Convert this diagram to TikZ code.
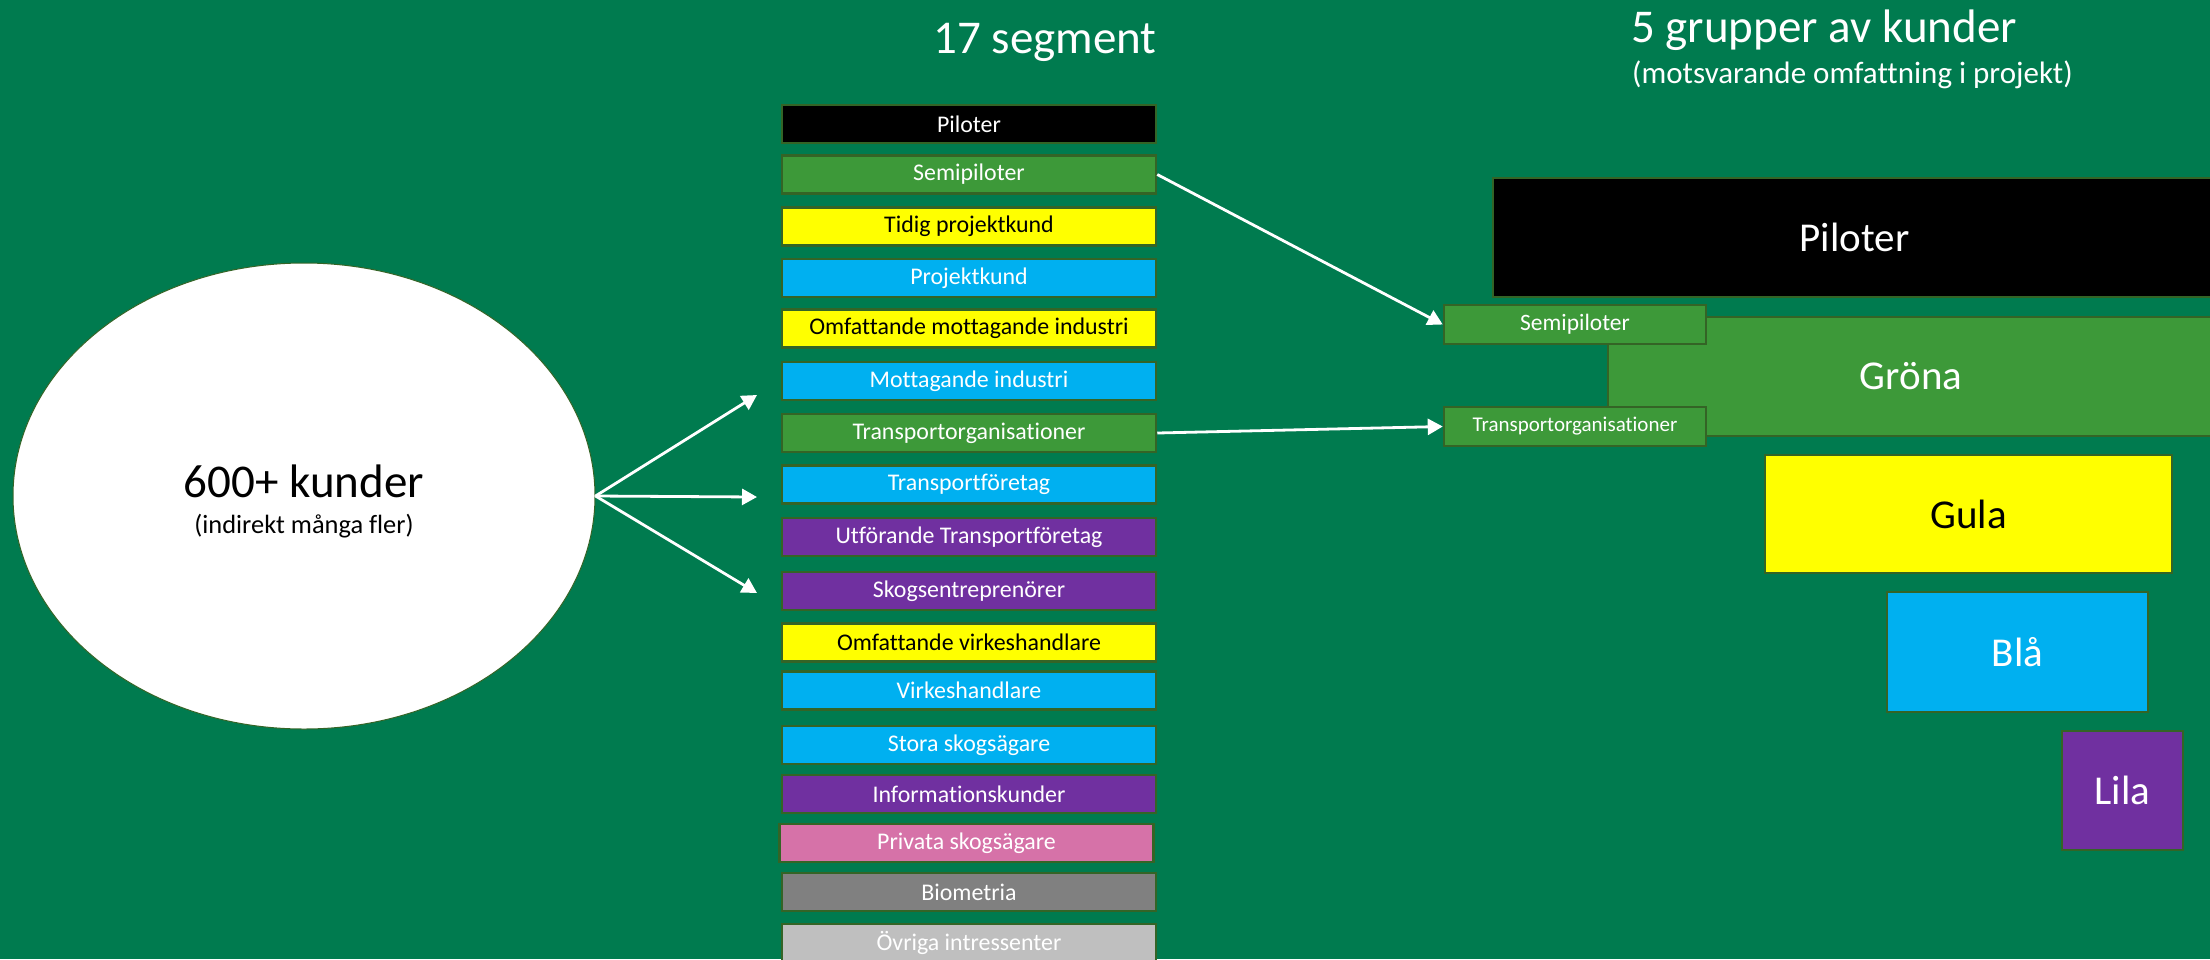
\documentclass[tikz,border=0pt]{standalone}
\usepackage{fontspec}
\setmainfont{Carlito}[Ligatures=NoCommon]
\usetikzlibrary{arrows.meta,shapes.geometric}
\definecolor{bg}{RGB}{0,123,79}
\definecolor{grn}{RGB}{61,153,57}
\definecolor{edgec}{RGB}{52,100,38}
\definecolor{blu}{RGB}{0,176,240}
\definecolor{ylw}{RGB}{255,255,0}
\definecolor{prp}{RGB}{112,48,160}
\definecolor{pnk}{RGB}{214,114,168}
\definecolor{gry}{RGB}{128,128,128}
\definecolor{lgry}{RGB}{191,191,191}
\begin{document}
\begin{tikzpicture}[x=1pt,y=-1pt,
  seg/.style={draw=edgec, line width=2.5pt, minimum width=374pt, minimum height=38pt,
    inner sep=0pt, text=white, font=\fontsize{23.9}{28}\selectfont},
  grp/.style={draw=edgec, line width=2.5pt, inner sep=0pt, text=white,
    font=\fontsize{41}{48}\selectfont},
  small/.style={draw=edgec, line width=2.5pt, inner sep=0pt, text=white, fill=grn,
    minimum width=262pt, minimum height=39pt},
  arr/.style={draw=white, line width=2.8pt, -{Triangle[length=15pt,width=16pt]}},
  title/.style={text=white, inner sep=0pt, font=\fontsize{47}{56}\selectfont}]
\useasboundingbox (0,0) rectangle (2210,959);
\clip (0,0) rectangle (2210,959);
\fill[bg] (0,0) rectangle (2210,959);

% titles
\node[title, anchor=base] (t1) at (1045,53) {17 segment};
\node[title, anchor=base west] (t2) at (1631,42) {5 grupper av kunder};
\node[text=white, inner sep=0pt, anchor=base west, font=\fontsize{31}{36}\selectfont] (t3) at (1632,83) {(motsvarande omfattning i projekt)};

% ellipse
\node[ellipse, fill=white, draw=edgec, line width=1pt, minimum width=582pt, minimum height=466pt, inner sep=0pt] (ell) at (304,496) {};
\node[anchor=base, inner sep=0pt, font=\fontsize{47}{56}\selectfont] (e1) at (304,497) {600+ kunder};
\node[anchor=base, inner sep=0pt, font=\fontsize{26.4}{32}\selectfont] (e2) at (304,533) {(indirekt många fler)};

% segment column
\node[seg, fill=black] (s1) at (969,124) {Piloter};
\node[seg, fill=grn] (s2) at (969,174.5) {Semipiloter};
\node[seg, fill=ylw, text=black] (s3) at (969,226.5) {Tidig projektkund};
\node[seg, fill=blu] (s4) at (969,278) {Projektkund};
\node[seg, fill=ylw, text=black] (s5) at (969,328.5) {Omfattande mottagande industri};
\node[seg, fill=blu] (s6) at (969,381) {Mottagande industri};
\node[seg, fill=grn] (s7) at (969,433) {Transportorganisationer};
\node[seg, fill=blu] (s8) at (969,484.5) {Transportföretag};
\node[seg, fill=prp] (s9) at (969,537) {Utförande Transportföretag};
\node[seg, fill=prp] (s10) at (969,591) {Skogsentreprenörer};
\node[seg, fill=ylw, text=black] (s11) at (969,642.5) {Omfattande virkeshandlare};
\node[seg, fill=blu] (s12) at (969,690.5) {Virkeshandlare};
\node[seg, fill=blu] (s13) at (969,745) {Stora skogsägare};
\node[seg, fill=prp] (s14) at (969,794) {Informationskunder};
\node[seg, fill=pnk] (s15) at (966.5,843) {Privata skogsägare};
\node[seg, fill=gry] (s16) at (969,892) {Biometria};
\node[seg, fill=lgry] (s17) at (969,943) {Övriga intressenter};

% groups
\node[grp, fill=black, minimum width=723pt, minimum height=119pt] (g1) at (1854.5,237.5) {Piloter};
\node[grp, fill=grn, minimum width=606pt, minimum height=119pt] (g2) at (1911,376.5) {Gröna};
\node[grp, fill=ylw, text=black, minimum width=407pt, minimum height=118pt] (g3) at (1968.5,514) {Gula};
\node[grp, fill=blu, minimum width=261pt, minimum height=120pt] (g4) at (2017.5,652) {Blå};
\node[grp, fill=prp, minimum width=121pt, minimum height=119pt] (g5) at (2122.5,790.5) {Lila};
\node[small, font=\fontsize{23.5}{28}\selectfont] (r1) at (1575,324.5) {Semipiloter};
\node[small, font=\fontsize{21}{25}\selectfont] (r2) at (1575,426.5) {Transportorganisationer};

% arrows
\coordinate (a1) at (757,395);
\coordinate (a2) at (757,497);
\coordinate (a3) at (757,593);
\draw[arr] (ell.east) -- (a1);
\draw[arr] (ell.east) -- (a2);
\draw[arr] (ell.east) -- (a3);
\draw[arr] (s2.east) -- (r1.west);
\draw[arr] (s7.east) -- (r2.west);
\end{tikzpicture}
\end{document}
